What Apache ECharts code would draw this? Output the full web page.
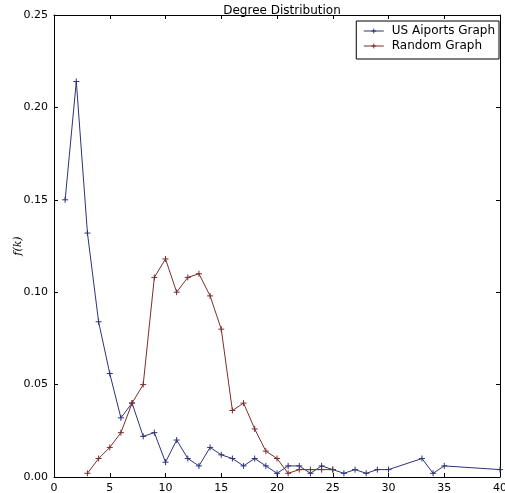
<!DOCTYPE html>
<html><head><meta charset="utf-8">
<script src="https://cdn.jsdelivr.net/npm/echarts@6/dist/echarts.min.js"></script>
<style>html,body{margin:0;padding:0;background:#fff}#c{width:505px;height:493px}</style>
</head><body><div id="c"></div>
<script>
const airportK = [1,2,3,4,5,6,7,8,9,10,11,12,13,14,15,16,17,18,19,20,21,22,23,24,25,26,27,28,29,30,33,34,35,40];
const airportF = [0.150,0.214,0.132,0.084,0.056,0.032,0.040,0.022,0.024,0.008,0.020,0.010,0.006,0.016,0.012,0.010,0.006,0.010,0.006,0.002,0.006,0.006,0.002,0.006,0.004,0.002,0.004,0.002,0.004,0.004,0.010,0.002,0.006,0.004];
const randomK = [3,4,5,6,7,8,9,10,11,12,13,14,15,16,17,18,19,20,21,22,23,24,25];
const randomF = [0.002,0.010,0.016,0.024,0.040,0.050,0.108,0.118,0.100,0.108,0.110,0.098,0.080,0.036,0.040,0.026,0.014,0.010,0.002,0.004,0.004,0.004,0.004];
const xTicks = [0,5,10,15,20,25,30,35,40];
const yTicks = [0.00,0.05,0.10,0.15,0.20,0.25];

const blue = '#2c3378';
const red = '#7c2d2d';
const plus = 'path://M0,5 L10,5 M5,0 L5,10';
const font = 'DejaVu Sans';

const chart = echarts.init(document.getElementById('c'), null, {renderer:'canvas'});
const axisCommon = {
  axisLine:{show:true, onZero:false, lineStyle:{color:'#000', width:1}},
  axisTick:{show:true, inside:true, length:4, lineStyle:{color:'#000'}},
  splitLine:{show:false}
};
chart.setOption({
  animation:false,
  title:{text:'Degree Distribution', left:277, textAlign:'center', top:0,
    textStyle:{fontFamily:font, fontSize:12, fontWeight:'normal', color:'#000'}},
  grid:{left:54, right:5, top:15, bottom:16, containLabel:false, outerBoundsMode:'none'},
  legend:{right:6, top:21, orient:'vertical', itemWidth:20, itemHeight:6, itemGap:3,
    borderColor:'#000', borderWidth:1, padding:[4,4,7,7], borderRadius:0,
    lineStyle:{width:1}, itemStyle:{borderWidth:1},
    textStyle:{fontFamily:font, fontSize:12, color:'#000', padding:[0,0,0,3]},
    data:['US Aiports Graph','Random Graph']},
  xAxis:[
    Object.assign({type:'value', min:xTicks[0], max:xTicks[xTicks.length-1], interval:5,
      axisLabel:{fontFamily:font, fontSize:11, color:'#000', margin:6}}, axisCommon),
    Object.assign({type:'value', position:'top', min:0, max:40, interval:5, axisLabel:{show:false}}, axisCommon)
  ],
  yAxis:[
    Object.assign({type:'value', min:yTicks[0], max:yTicks[yTicks.length-1], interval:0.05,
      name:'f(k)', nameLocation:'middle', nameGap:30, nameRotate:90, nameMoveOverlap:false,
      nameTextStyle:{fontFamily:'DejaVu Serif', fontStyle:'italic', fontSize:11, color:'#000'},
      axisLabel:{fontFamily:font, fontSize:11, color:'#000', margin:6, formatter:v=>v.toFixed(2)}}, axisCommon),
    Object.assign({type:'value', position:'right', min:0, max:0.25, interval:0.05, axisLabel:{show:false}}, axisCommon)
  ],
  series:[
    {name:'US Aiports Graph', type:'line', data:airportK.map((k,i)=>[k,airportF[i]]),
      symbol:plus, symbolSize:6, showAllSymbol:true,
      lineStyle:{color:blue, width:1}, itemStyle:{color:blue, borderColor:blue, borderWidth:1}},
    {name:'Random Graph', type:'line', data:randomK.map((k,i)=>[k,randomF[i]]),
      symbol:plus, symbolSize:6, showAllSymbol:true,
      lineStyle:{color:red, width:1}, itemStyle:{color:red, borderColor:red, borderWidth:1}}
  ]
});
</script></body></html>
